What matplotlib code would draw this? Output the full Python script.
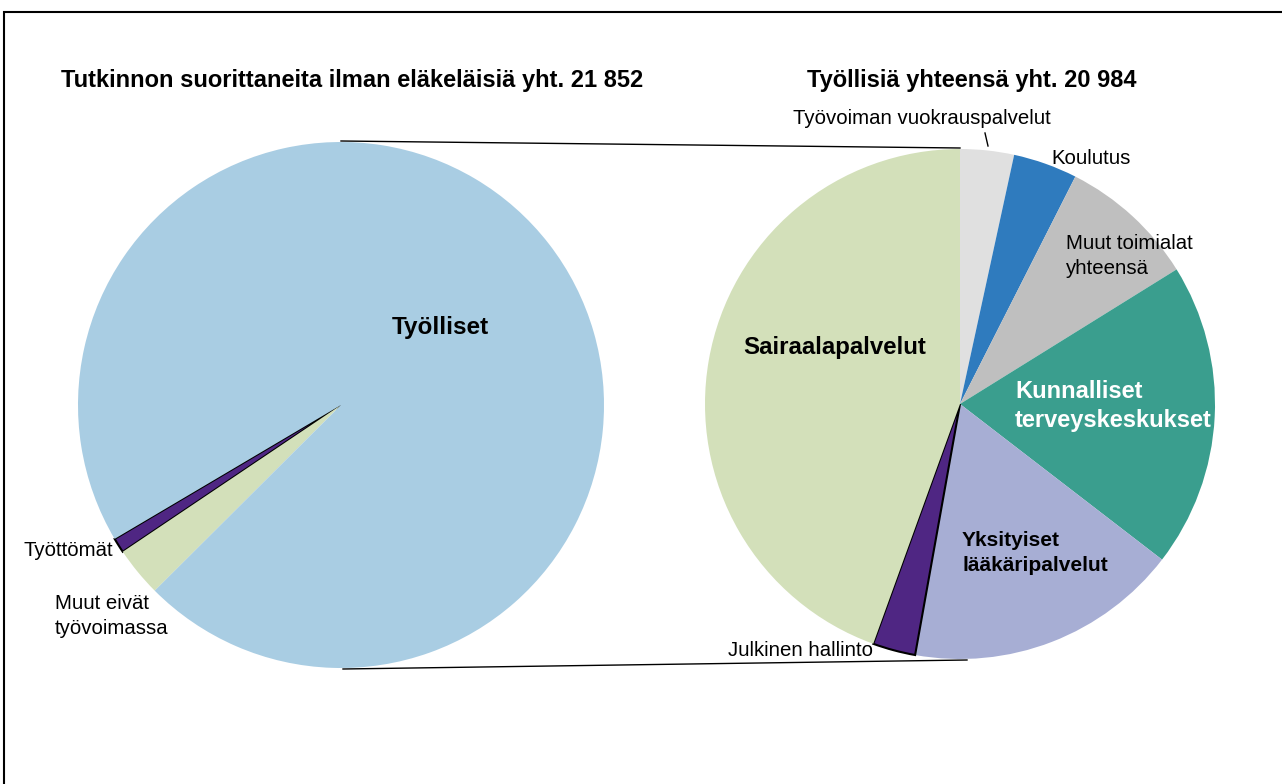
import matplotlib.pyplot as plt
from matplotlib.patches import Rectangle

plt.rcParams['font.family'] = ['Liberation Sans', 'DejaVu Sans']

# vasen piirakka: tutkinnon suorittaneet
left_labels = ['Työttömät', 'Muut eivät\ntyövoimassa', 'Työlliset']
left_values = [202, 666, 20984]
left_colors = ['#4F2683', '#D3E0BA', '#A9CDE3']

# oikea piirakka: työlliset toimialoittain
right_labels = ['Työvoiman vuokrauspalvelut', 'Koulutus', 'Muut toimialat\nyhteensä',
                'Kunnalliset\nterveyskeskukset', 'Yksityiset\nlääkäripalvelut',
                'Julkinen hallinto', 'Sairaalapalvelut']
right_values = [715, 853, 1821, 4049, 3645, 569, 9332]
right_colors = ['#E0E0E0', '#2F7BBE', '#BFBFBF', '#3A9E8E', '#A7AED4', '#4F2683', '#D3E0BA']

title_left = 'Tutkinnon suorittaneita ilman eläkeläisiä yht. 21 852'
title_right = 'Työllisiä yhteensä yht. 20 984'

W, H = 1282, 784
fig = plt.figure(figsize=(W / 100, H / 100), dpi=100)
ax = fig.add_axes([0, 0, 1, 1])

c1, r1 = (341, 379), 263
c2, r2 = (960, 380), 255

w1, _ = ax.pie(left_values, colors=left_colors, startangle=210.6, counterclock=True,
               center=c1, radius=r1, frame=True)
w2, _ = ax.pie(right_values, colors=right_colors, startangle=90, counterclock=False,
               center=c2, radius=r2, frame=True)
ax.set_xlim(0, W)
ax.set_ylim(0, H)
ax.set_aspect('equal')
ax.axis('off')
for w in list(w1) + list(w2):
    w.set_edgecolor('none')
for w in (w1[0], w2[5]):
    w.set_edgecolor('black')
    w.set_linewidth(1.5)

# yhdysviivat
ax.plot([c1[0], c2[0]], [c1[1] + r1 + 1, c2[1] + r2 + 1], color='black', lw=1)
ax.plot([c1[0] + 2, c2[0] + 7], [c1[1] - r1 - 1, c2[1] - r2 - 1], color='black', lw=1)

normal = 14.7

# otsikot
ax.text(352, 704, title_left, ha='center', va='center', fontsize=17, fontweight='bold')
ax.text(972, 704, title_right, ha='center', va='center', fontsize=17, fontweight='bold')

# tekstit
ax.text(440, 457, left_labels[2], ha='center', va='center', fontsize=17.5, fontweight='bold')
ax.text(113, 233, left_labels[0], ha='right', va='center', fontsize=normal)
ax.text(55, 168, left_labels[1], ha='left', va='center', fontsize=normal, linespacing=1.35)

ax.text(922, 666, right_labels[0], ha='center', va='center', fontsize=normal)
ax.plot([985, 988], [651, 638], color='black', lw=1)
ax.text(1051, 626, right_labels[1], ha='left', va='center', fontsize=normal)
ax.text(1066, 528, right_labels[2], ha='left', va='center', fontsize=normal, linespacing=1.35)
ax.text(1015, 378, right_labels[3], ha='left', va='center', fontsize=17, fontweight='bold',
        color='white', linespacing=1.35)
ax.text(962, 231, right_labels[4], ha='left', va='center', fontsize=15, fontweight='bold',
        linespacing=1.35)
ax.text(873, 134, right_labels[5], ha='right', va='center', fontsize=normal)
ax.text(835, 437, right_labels[6], ha='center', va='center', fontsize=17.3, fontweight='bold')

# kehys
fig.patches.append(Rectangle((4 / W, -0.1), 1.2, (H - 12) / H + 0.1, transform=fig.transFigure,
                             fill=False, edgecolor='black', lw=1.5))

fig.savefig('out.png', dpi=100)
